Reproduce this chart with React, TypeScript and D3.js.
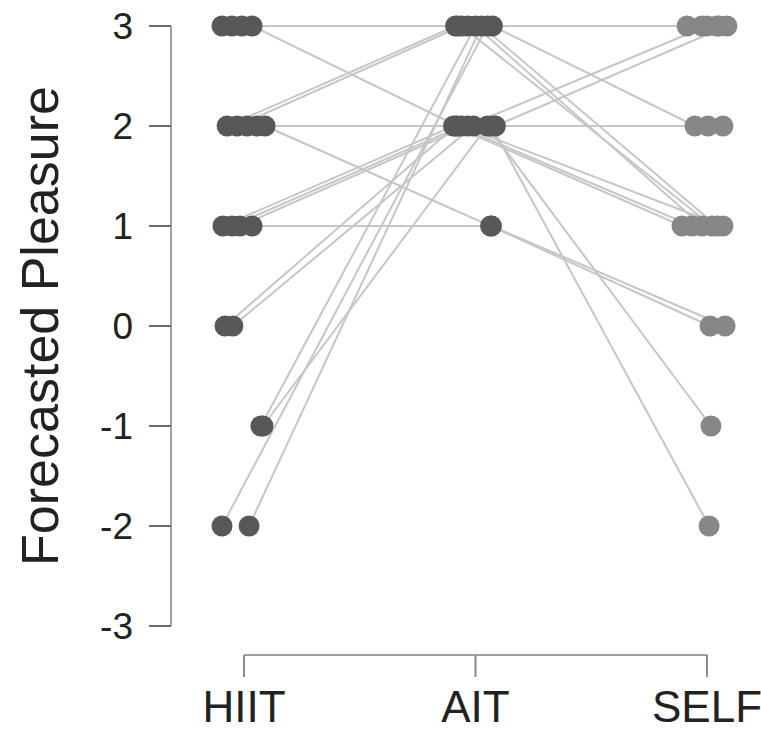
import React from "react";
import * as d3 from "d3";

// Conditions (x categories)
const conditions = ["HIIT", "AIT", "SELF"];
const yTicks = [-3, -2, -1, 0, 1, 2, 3];

// Forecasted pleasure per participant, per condition
const hiit = [3, 3, 3, 3, 2, 2, 2, 2, 2, 1, 1, 1, 1, 0, 0, -1, -1, -2, -2];
const ait = [3, 3, 3, 2, 3, 3, 2, 2, 1, 2, 2, 2, 1, 2, 2, 3, 2, 3, 3];
const self = [3, 3, 2, 1, 3, 1, -2, 3, 0, 1, 1, 3, 0, 2, 2, 1, -1, 3, 1];

// Horizontal jitter (in category units) for each participant's point
const hiitJit = [-0.095, -0.052, -0.009, 0.035, -0.073, -0.03, 0.013, 0.056, 0.091, -0.091, -0.052, -0.017, 0.035, -0.082, -0.048, 0.073, 0.082, -0.095, 0.022];
const aitJit = [-0.078, -0.035, 0.073, -0.078, -0.086, -0.06, 0.069, 0.086, 0.065, -0.095, -0.06, -0.035, 0.069, -0.086, -0.009, 0, 0.052, 0.052, 0.026];
const selfJit = [-0.086, -0.022, -0.052, -0.065, 0.043, 0.022, 0.009, 0.086, 0.013, -0.108, 0.069, 0, 0.078, 0.069, 0.004, -0.022, 0.017, 0.052, 0.043];

const W = 761;
const H = 731;

export default function App() {
  const x = d3.scaleLinear().domain([1, 3]).range([244, 707]);
  const y = d3.scaleLinear().domain([-3, 3]).range([626, 26]);

  const participants = hiit.map((h, i) => [
    { c: 1 + hiitJit[i], v: h },
    { c: 2 + aitJit[i], v: ait[i] },
    { c: 3 + selfJit[i], v: self[i] },
  ]);

  const line = d3
    .line<{ c: number; v: number }>()
    .x((d) => x(d.c))
    .y((d) => y(d.v));

  const axisX = 171;
  const axisY = 655;
  const font = "'Liberation Sans', Arial, sans-serif";
  const r = 10.5;

  return (
    <svg
      width={W}
      height={H}
      style={{ position: "absolute", left: 0, top: 0, background: "#fff" }}
    >
      {/* connecting lines */}
      <g fill="none" stroke="#c6c6c6" strokeWidth={2}>
        {participants.map((p, i) => (
          <path key={i} d={line(p) || ""} />
        ))}
      </g>
      {/* points */}
      <g>
        {participants.map((p, i) =>
          p.map((pt, j) => (
            <circle
              key={`${i}-${j}`}
              cx={x(pt.c)}
              cy={y(pt.v)}
              r={r}
              fill={j === 2 ? "#878787" : "#585858"}
            />
          ))
        )}
      </g>
      {/* y axis */}
      <g>
        <line x1={axisX} x2={axisX} y1={y(-3)} y2={y(3)} stroke="#a0a0a0" strokeWidth={2} />
        {yTicks.map((t) => (
          <g key={t}>
            <line x1={149} x2={axisX} y1={y(t)} y2={y(t)} stroke="#6a6a6a" strokeWidth={2} />
            <text
              x={133}
              y={y(t)}
              dy="0.36em"
              textAnchor="end"
              fontFamily={font}
              fontSize={37}
              fill="#222"
            >
              {t}
            </text>
          </g>
        ))}
        <text
          transform={`translate(58, 326) rotate(-90)`}
          textAnchor="middle"
          fontFamily={font}
          fontSize={52}
          fill="#222"
        >
          Forecasted Pleasure
        </text>
      </g>
      {/* x axis */}
      <g>
        <line x1={x(1)} x2={x(3)} y1={axisY} y2={axisY} stroke="#a0a0a0" strokeWidth={2} />
        {conditions.map((c, i) => (
          <g key={c}>
            <line x1={x(i + 1)} x2={x(i + 1)} y1={axisY} y2={677} stroke="#8a8a8a" strokeWidth={2} />
            <text
              x={x(i + 1)}
              y={722}
              textAnchor="middle"
              fontFamily={font}
              fontSize={44}
              fill="#222"
            >
              {c}
            </text>
          </g>
        ))}
      </g>
    </svg>
  );
}
